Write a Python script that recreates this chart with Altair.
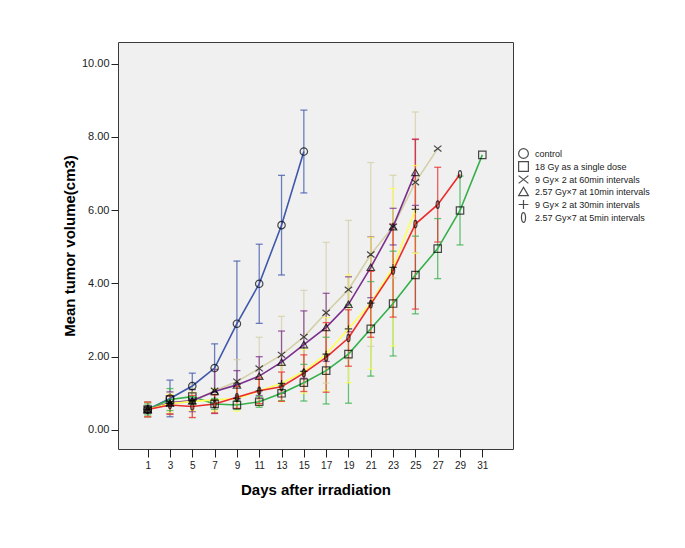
import altair as alt
import pandas as pd

# ---------------- data ----------------
series = [
    "control",
    "18 Gy as a single dose",
    "9 Gy× 2 at 60min intervals",
    "2.57 Gy×7 at 10min intervals",
    "9 Gy× 2 at 30min intervals",
    "2.57 Gy×7 at 5min intervals",
]
colors = ["#3f58ab", "#35b04b", "#d4cfa6", "#7b2e8c", "#ffff55", "#ec2b2b"]
days = [1, 3, 5, 7, 9, 11, 13, 15, 17, 19, 21, 23, 25, 27, 29, 31]

control_mean = [0.56, 0.86, 1.20, 1.69, 2.90, 3.99, 5.59, 7.60]
control_err = [0.20, 0.50, 0.35, 0.66, 1.71, 1.08, 1.36, 1.13]

single_mean = [0.56, 0.83, 0.91, 0.71, 0.68, 0.77, 1.00, 1.29, 1.62, 2.07, 2.76, 3.45, 4.23, 4.95, 5.99, 7.51]
single_err = [0.15, 0.30, 0.20, 0.15, 0.12, 0.15, 0.20, 0.50, 0.91, 1.34, 1.29, 1.43, 1.06, 0.82, 0.94, 0.0]

g60_mean = [0.56, 0.72, 0.78, 1.07, 1.32, 1.68, 2.05, 2.54, 3.20, 3.83, 4.79, 5.55, 6.76, 7.68]
g60_err = [0.20, 0.30, 0.45, 0.60, 0.60, 0.85, 1.05, 1.27, 1.92, 1.89, 2.51, 1.40, 1.92, 0.0]

g10_mean = [0.56, 0.74, 0.80, 1.05, 1.23, 1.47, 1.85, 2.33, 2.80, 3.43, 4.44, 5.55, 7.03]
g10_err = [0.20, 0.30, 0.30, 0.60, 0.39, 0.53, 0.85, 0.92, 0.93, 0.75, 0.83, 0.50, 0.90]

g30_mean = [0.56, 0.72, 0.78, 0.82, 0.86, 1.07, 1.27, 1.60, 2.07, 2.76, 3.46, 4.44, 6.02]
g30_err = [0.20, 0.25, 0.25, 0.30, 0.35, 0.40, 0.50, 0.60, 1.00, 1.47, 1.80, 2.15, 1.20]

g5_mean = [0.56, 0.68, 0.64, 0.71, 0.89, 1.07, 1.18, 1.55, 1.98, 2.51, 3.43, 4.35, 5.62, 6.15, 6.98]
g5_err = [0.20, 0.25, 0.30, 0.25, 0.30, 0.35, 0.40, 0.50, 0.95, 0.77, 0.90, 1.27, 2.32, 1.02, 0.0]

y_ticks = [0, 2, 4, 6, 8, 10]

shapes = [
    "circle",
    "square",
    "M-1,-0.8L1,0.8M-1,0.8L1,-0.8",
    "triangle-up",
    "M-1,0L1,0M0,-0.9L0,0.9",
    "M0,-1A0.42,1,0,1,1,0,1A0.42,1,0,1,1,0,-1Z",
]

means = [control_mean, single_mean, g60_mean, g10_mean, g30_mean, g5_mean]
errs = [control_err, single_err, g60_err, g10_err, g30_err, g5_err]

rows = []
for order, (name, m, e) in enumerate(zip(series, means, errs)):
    for d, mv, ev in zip(days, m, e):
        rows.append({"series": name, "group": name, "day": d, "mean": mv,
                     "err": ev, "lo": mv - ev, "hi": mv + ev})
df = pd.DataFrame(rows)

FONT = "Liberation Sans"

xscale = alt.Scale(domain=[-1.66, 33.75], nice=False, zero=False)
yscale = alt.Scale(domain=[-0.52, 10.59], nice=False, zero=False)
# colour domain listed in reverse so its legend (disabled) is not merged with the shape legend
cscale = alt.Scale(domain=series[::-1], range=colors[::-1])

x_axis = alt.Axis(values=days, title="Days after irradiation", grid=False,
                  domain=False, tickSize=8, tickColor="#222", labelFontSize=10,
                  labelPadding=3, labelColor="#222", labelFont=FONT,
                  labelOverlap=False,
                  titleFont=FONT, titleFontSize=15, titleFontWeight="bold",
                  titlePadding=12, titleColor="#000")
y_axis = alt.Axis(values=y_ticks, format=".2f", title="Mean tumor volume(cm3)",
                  grid=False, domain=False, tickSize=7, tickColor="#222",
                  labelFontSize=11, labelPadding=2, labelColor="#222",
                  labelFont=FONT, titleFont=FONT, titleFontSize=15,
                  titleFontWeight="bold", titlePadding=4, titleColor="#000")

X = alt.X("day:Q", scale=xscale, axis=x_axis)
color = alt.Color("group:N", scale=cscale, legend=None)

base = alt.Chart(df)
errdf = base.transform_filter("datum.err > 0")

err_rule = errdf.mark_rule(strokeWidth=1.3, opacity=0.75).encode(
    x=X,
    y=alt.Y("lo:Q", scale=yscale, axis=y_axis),
    y2="hi:Q",
    color=color,
)
cap_lo = errdf.mark_tick(orient="horizontal", size=7, thickness=1.3, opacity=0.75).encode(
    x=X,
    y=alt.Y("lo:Q", scale=yscale, axis=y_axis),
    color=color,
)
cap_hi = errdf.mark_tick(orient="horizontal", size=7, thickness=1.3, opacity=0.75).encode(
    x=X,
    y=alt.Y("hi:Q", scale=yscale, axis=y_axis),
    color=color,
)

lines = base.mark_line(strokeWidth=1.6).encode(
    x=X,
    y=alt.Y("mean:Q", scale=yscale, axis=y_axis),
    color=color,
    order="day:Q",
)

points = base.mark_point(filled=False, strokeWidth=1.2, size=55).encode(
    x=X,
    y=alt.Y("mean:Q", scale=yscale, axis=y_axis),
    stroke=alt.value("black"),
    shape=alt.Shape("series:N", scale=alt.Scale(domain=series, range=shapes),
                    legend=alt.Legend(title=None, orient="none", legendX=400, legendY=106,
                                      symbolSize=95, symbolStrokeColor="black",
                                      symbolStrokeWidth=1.2,
                                      labelFontSize=9, labelFont=FONT, labelColor="#222",
                                      labelOffset=6, rowPadding=-2, padding=0,
                                      labelLimit=300)),
)

chart = alt.layer(err_rule, cap_lo, cap_hi, lines, points).properties(
    width=395,
    height=407,
    autosize=alt.AutoSizeParams(type="none"),
    padding={"left": 110, "top": 34, "right": 162, "bottom": 91},
    background="white",
).configure_view(fill="#f0f0f0", stroke="#3a3a3a", strokeWidth=1)

chart.save("out.html", embed_options={"renderer": "svg", "actions": False})
